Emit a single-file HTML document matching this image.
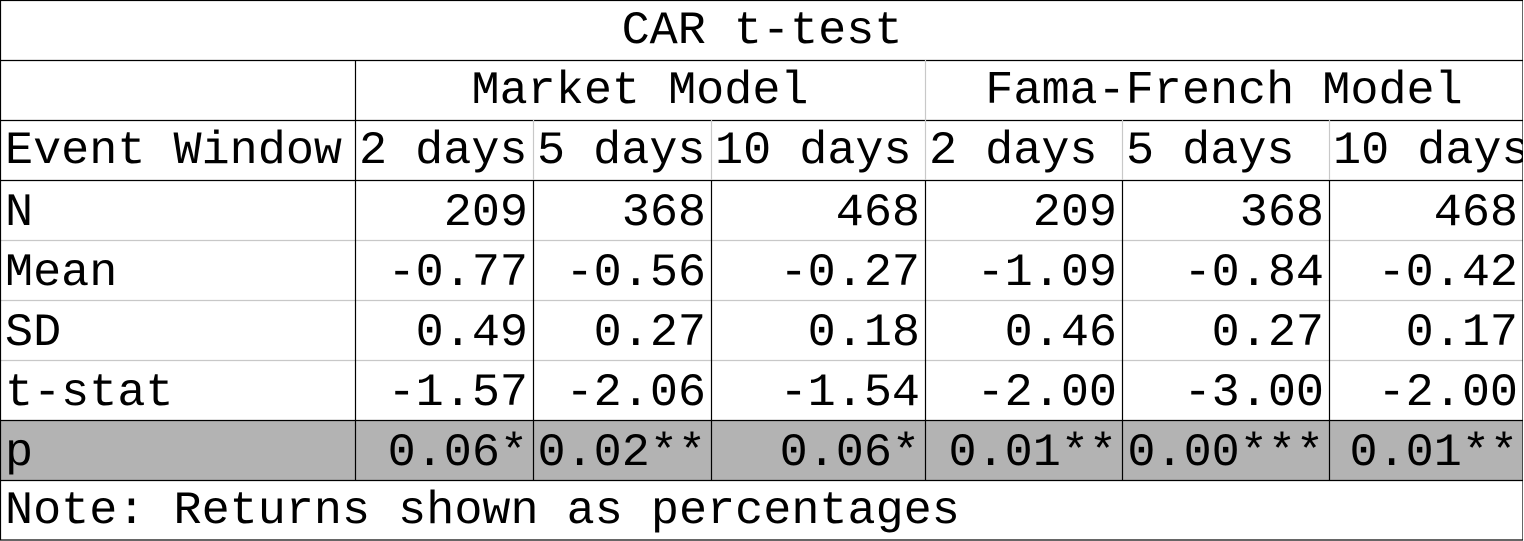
<!DOCTYPE html>
<html><head><meta charset="utf-8"><style>
html,body{margin:0;padding:0;background:#fff;}
svg{display:block;}
text{font-family:"Liberation Mono",monospace;font-size:46.8px;fill:#000;}
</style></head><body>
<svg id="t" width="1524" height="541" xmlns="http://www.w3.org/2000/svg">
<defs><clipPath id="clip"><rect x="0" y="0" width="1523" height="541"/></clipPath></defs>
<g id="g" clip-path="url(#clip)"></g>
</svg>
<script>
const colX=[0,355,533,711,925,1122,1329,1523];
const windows=["2 days","5 days","10 days","2 days","5 days","10 days"];
const rowLabels=["N","Mean","SD","t-stat","p"];
const nVals=["209","368","468","209","368","468"];
const meanVals=["-0.77","-0.56","-0.27","-1.09","-0.84","-0.42"];
const sdVals=["0.49","0.27","0.18","0.46","0.27","0.17"];
const tVals=["-1.57","-2.06","-1.54","-2.00","-3.00","-2.00"];
const pVals=["0.06*","0.02**","0.06*","0.01**","0.00***","0.01**"];
const body=[nVals,meanVals,sdVals,tVals,pVals];
const NS="http://www.w3.org/2000/svg";
const g=document.getElementById('g');
function el(tag,attrs){const e=document.createElementNS(NS,tag);for(const k in attrs)e.setAttribute(k,attrs[k]);g.appendChild(e);return e;}
function txt(s,x,y,anchor,name){const e=el('text',{x:x,y:y,'text-anchor':anchor});e.textContent=s;


return e;}
const RH=60;
const bg=el('rect',{x:0,y:420,width:1524,height:60,fill:'#b3b3b3'});


function line(x1,y1,x2,y2,c){const l=el('line',{x1:x1,y1:y1,x2:x2,y2:y2,stroke:c,'stroke-width':1.2});

}
[[60,'#000'],[120,'#000'],[180,'#000'],[240,'#c8c8c8'],[300,'#c8c8c8'],[360,'#c8c8c8'],[420,'#000'],[480,'#000']].forEach(([y,c])=>line(0,y+0.5,1524,y+0.5,c));
line(355.5,60,355.5,480,'#000');
line(925.5,60,925.5,180,'#c8c8c8');
[533,711,1122,1329].forEach(x=>line(x+0.5,120,x+0.5,180,'#c8c8c8'));
[533,711,925,1122,1329].forEach(x=>line(x+0.5,180,x+0.5,480,'#000'));
const ob=el('rect',{x:0.5,y:0.5,width:1522.5,height:539.5,fill:'none',stroke:'#000','stroke-width':1.2});


txt("CAR t-test",762,43,'middle','table-title');
txt("Market Model",640,103,'middle','market-model-header');
txt("Fama-French Model",1224,103,'middle','fama-french-header');
txt("Event Window",5,163,'start','event-window-label');
windows.forEach((w,i)=>txt(w,colX[i+1]+4,163,'start','window-header-'+i));
rowLabels.forEach((r,ri)=>{
  const y=180+ri*RH+45;
  txt(r,5,y,'start','row-label-'+r.toLowerCase());
  body[ri].forEach((v,ci)=>txt(v,colX[ci+2]-5,y,'end','cell-'+r.toLowerCase()+'-'+ci));
});
txt("Note: Returns shown as percentages",5,523,'start','table-note');
</script>
</body></html>
